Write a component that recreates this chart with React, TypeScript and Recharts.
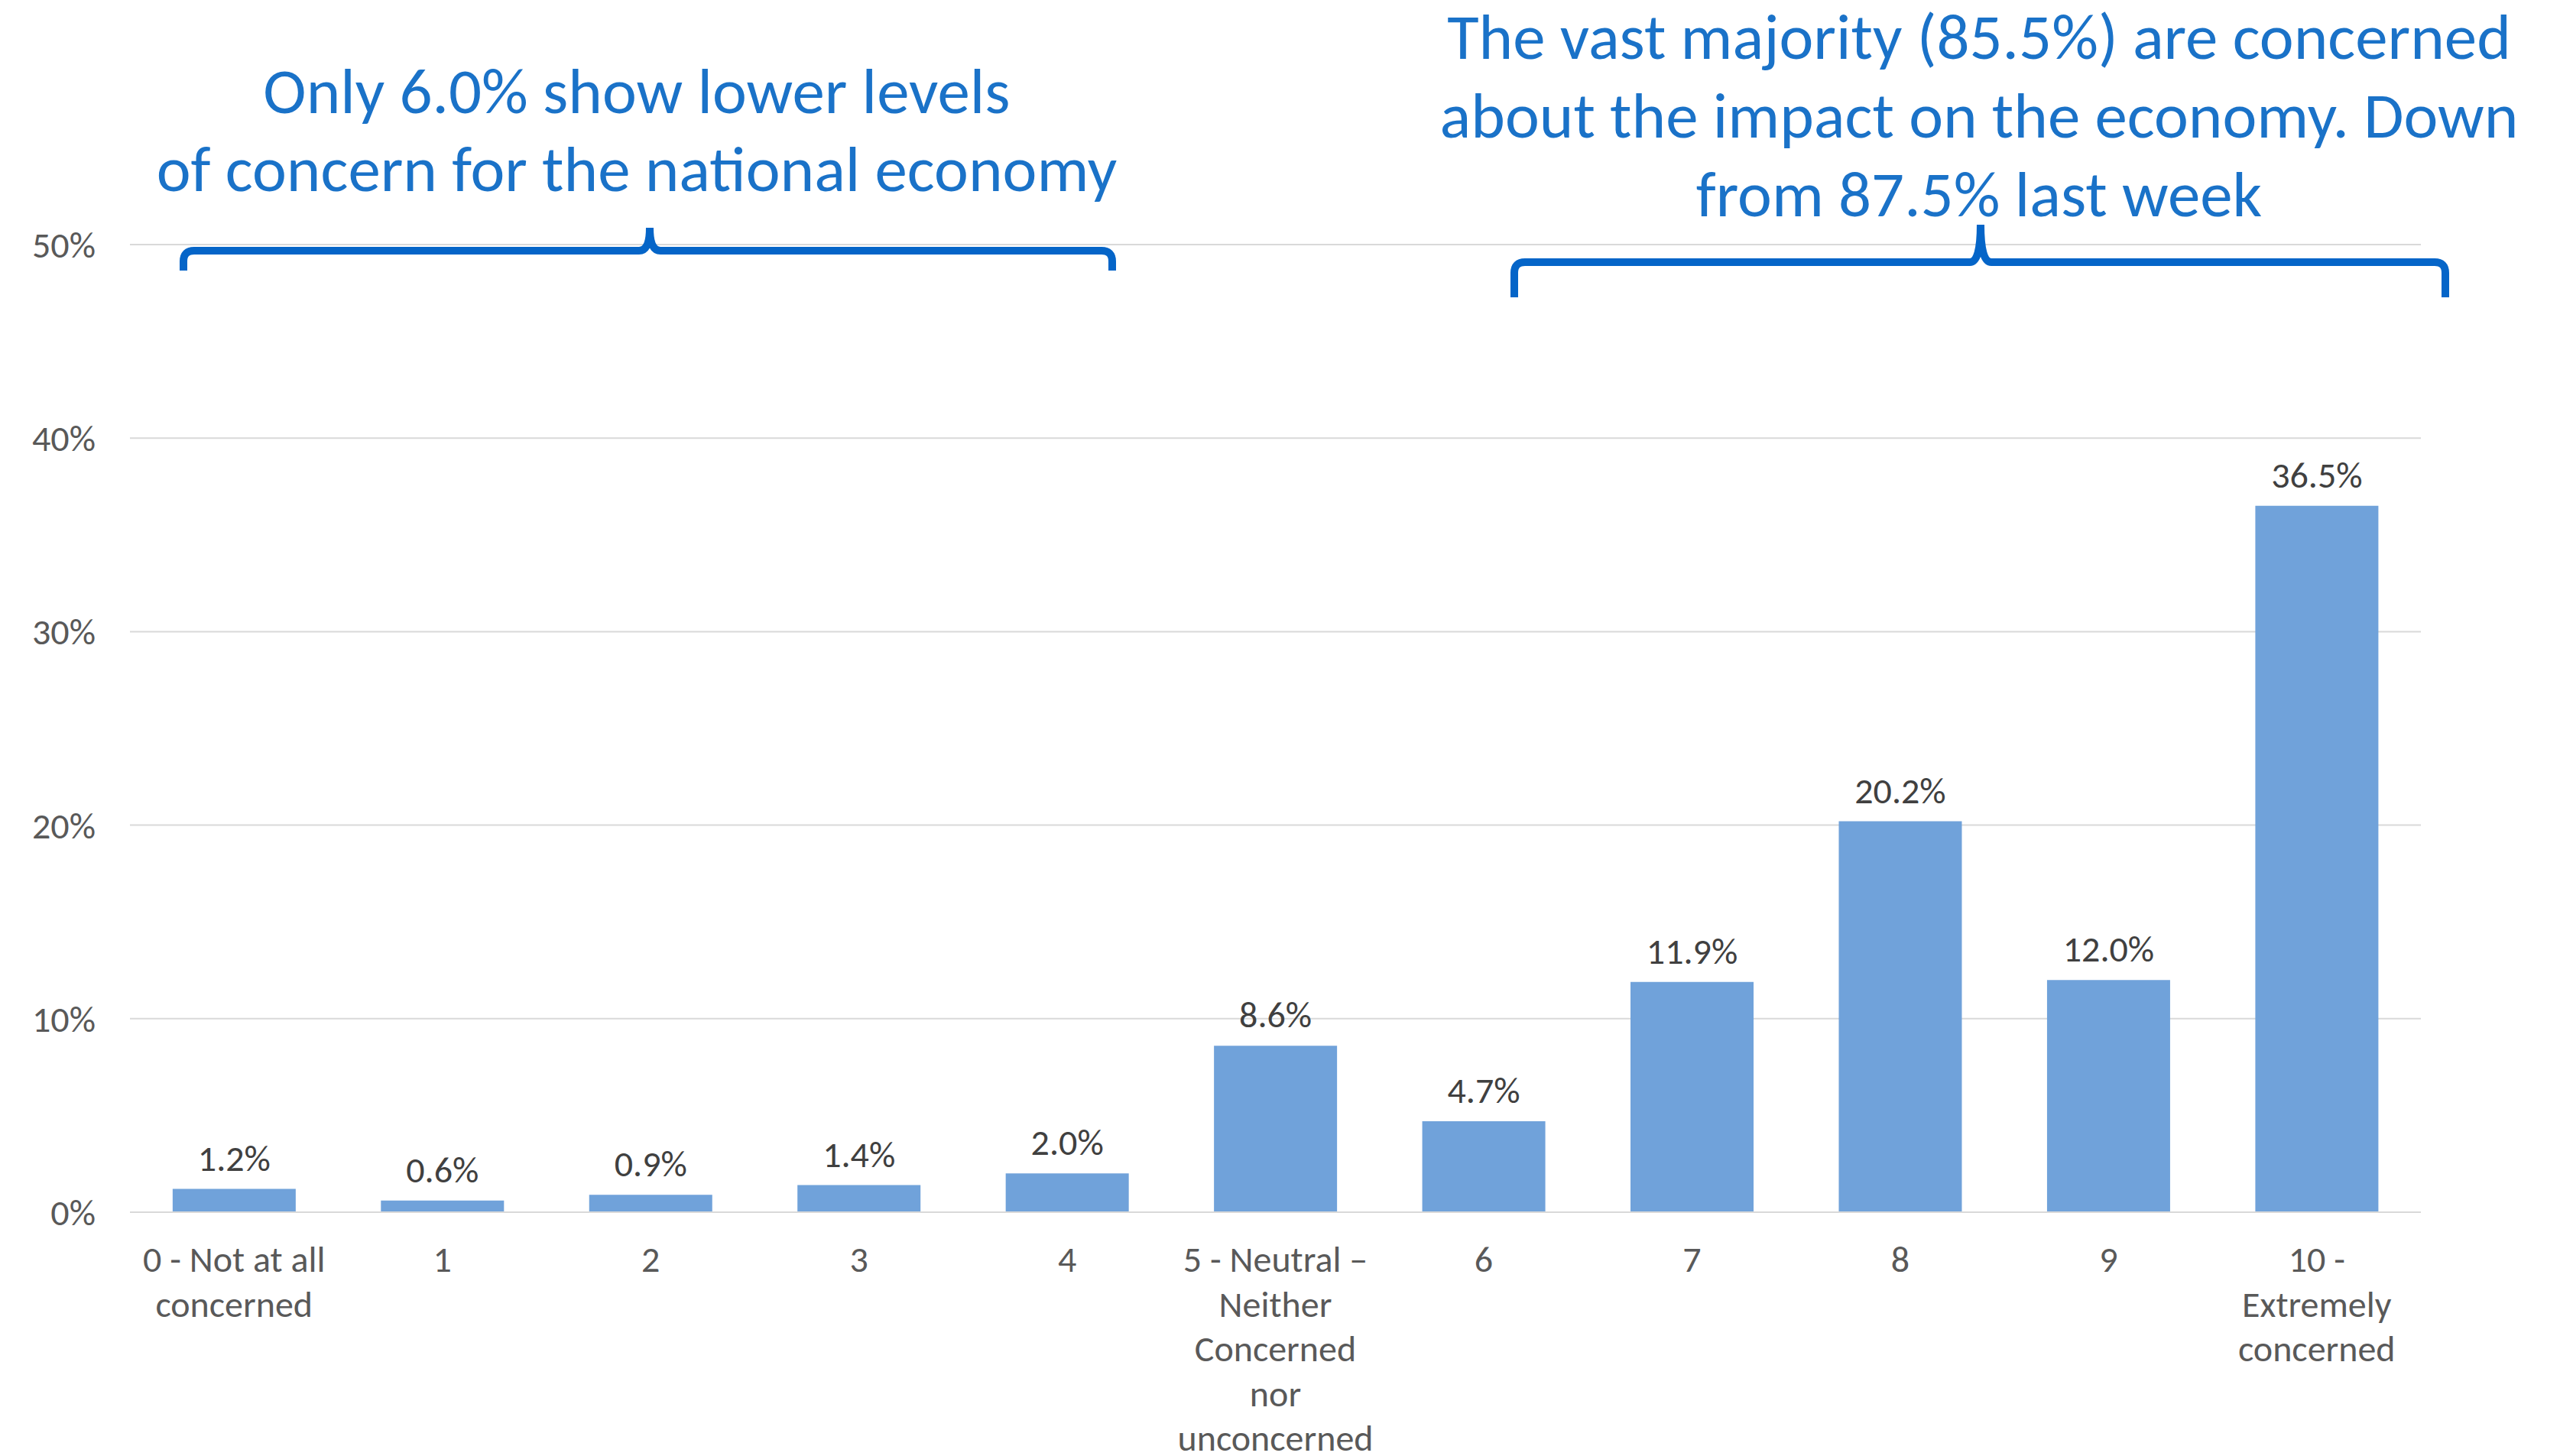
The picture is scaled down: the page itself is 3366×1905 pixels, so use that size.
import { Bar, BarChart, CartesianGrid, LabelList, XAxis, YAxis } from 'recharts'

const categories = [
    '0 - Not at all\nconcerned',
    '1',
    '2',
    '3',
    '4',
    '5 - Neutral –\nNeither\nConcerned\nnor\nunconcerned',
    '6',
    '7',
    '8',
    '9',
    '10 -\nExtremely\nconcerned',
]
const shares = [1.2, 0.6, 0.9, 1.4, 2.0, 8.6, 4.7, 11.9, 20.2, 12.0, 36.5]
const yTicks = [0, 10, 20, 30, 40, 50]
const lowNote = ['Only 6.0% show lower levels', 'of concern for the national economy']
const highNote = [
    'The vast majority (85.5%) are concerned',
    'about the impact on the economy. Down',
    'from 87.5% last week',
]

const data = categories.map((name, i) => ({ name, share: shares[i] }))

const W = 3366
const H = 1905
const FONT = "Calibri, Carlito, Lato, 'Open Sans', sans-serif"
const NOTE_BLUE = '#1a72c8'
const BRACE_BLUE = '#0565c8'

function CategoryTick(props: any) {
    const { x, y, payload } = props
    const lines = String(payload.value).split('\n')
    return (
        <text x={x} y={y} textAnchor="middle" fill="#595959" fontSize={48} fontFamily={FONT}>
            {lines.map((line, i) => (
                <tspan key={i} x={x} dy={i === 0 ? 78 : 58.5}>{line}</tspan>
            ))}
        </text>
    )
}

// curly bracket: ends drop down, small spike in the middle
function brace(x1: number, x2: number, xm: number, y: number, yEnd: number, yTip: number) {
    const r = 14
    return `M${x1},${yEnd} L${x1},${y + r} Q${x1},${y} ${x1 + r},${y} L${xm - 14},${y} Q${xm},${y} ${xm},${yTip} Q${xm},${y} ${xm + 14},${y} L${x2 - r},${y} Q${x2},${y} ${x2},${y + r} L${x2},${yEnd}`
}

export default function App() {
    return (
        <div style={{ position: 'absolute', left: 0, top: 0, width: W, height: H, background: '#fff' }}>
            <BarChart
                width={W}
                height={H}
                data={data}
                margin={{ top: 320, right: 199, bottom: 0, left: 0 }}
                barCategoryGap="20.5%"
            >
                <CartesianGrid vertical={false} stroke="#d9d9d9" strokeWidth={2} />
                <XAxis
                    dataKey="name"
                    height={319}
                    interval={0}
                    tickLine={false}
                    tickSize={0}
                    tickMargin={0}
                    axisLine={{ stroke: '#d9d9d9', strokeWidth: 2 }}
                    tick={<CategoryTick />}
                />
                <YAxis
                    width={170}
                    domain={[0, 50]}
                    ticks={yTicks}
                    axisLine={false}
                    tickLine={false}
                    tickSize={0}
                    tickMargin={45}
                    tickFormatter={(v) => `${v}%`}
                    tick={{ fill: '#595959', fontSize: 48, fontFamily: FONT }}
                />
                <Bar dataKey="share" fill="#70a2da" isAnimationActive={false}>
                    <LabelList
                        dataKey="share"
                        position="top"
                        offset={24}
                        formatter={(v: any) => `${Number(v).toFixed(1)}%`}
                        fill="#404040"
                        fontSize={48}
                        fontFamily={FONT}
                    />
                </Bar>
            </BarChart>
            <svg
                width={W}
                height={H}
                style={{ position: 'absolute', left: 0, top: 0, pointerEvents: 'none' }}
            >
                <g fontFamily={FONT} fontSize={85} fill={NOTE_BLUE} textAnchor="middle">
                    {lowNote.map((t, i) => (
                        <text key={i} x={833} y={148 + i * 102}>{t}</text>
                    ))}
                    {highNote.map((t, i) => (
                        <text key={i} x={2589} y={77 + i * 103}>{t}</text>
                    ))}
                </g>
                <path d={brace(240, 1455, 850, 328, 354, 298)} fill="none" stroke={BRACE_BLUE} strokeWidth={10} />
                <path d={brace(1981, 3199, 2591, 343, 389, 294)} fill="none" stroke={BRACE_BLUE} strokeWidth={10} />
            </svg>
        </div>
    )
}
